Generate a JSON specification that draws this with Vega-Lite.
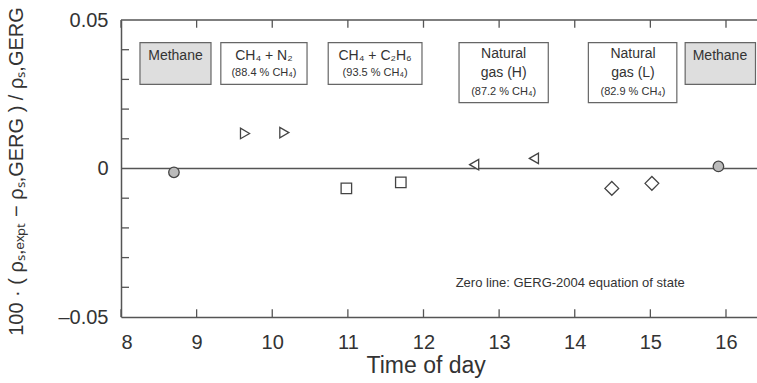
{
  "$schema": "https://vega.github.io/schema/vega-lite/v6.json",
  "width": 636,
  "height": 297,
  "autosize": "none",
  "padding": {"left": 121, "top": 20, "right": 0, "bottom": 66},
  "config": {
    "view": {"stroke": null},
    "font": "Liberation Sans",
    "axis": {"domainColor": "#555", "tickColor": "#555", "labelColor": "#333", "titleColor": "#333", "grid": false, "labelFont": "Liberation Sans", "titleFont": "Liberation Sans", "titleFontWeight": "normal"}
  },
  "datasets": {
    "points": [
      {"t": 8.70, "dev": -0.0013, "gas": "Methane", "shape": "circle"},
      {"t": 9.64, "dev": 0.0118, "gas": "CH4+N2", "shape": "triangle-right"},
      {"t": 10.16, "dev": 0.0121, "gas": "CH4+N2", "shape": "triangle-right"},
      {"t": 10.98, "dev": -0.0067, "gas": "CH4+C2H6", "shape": "square"},
      {"t": 11.70, "dev": -0.0047, "gas": "CH4+C2H6", "shape": "square"},
      {"t": 12.67, "dev": 0.0013, "gas": "Natural gas (H)", "shape": "triangle-left"},
      {"t": 13.46, "dev": 0.0034, "gas": "Natural gas (H)", "shape": "triangle-left"},
      {"t": 14.49, "dev": -0.0067, "gas": "Natural gas (L)", "shape": "diamond"},
      {"t": 15.02, "dev": -0.0050, "gas": "Natural gas (L)", "shape": "diamond"},
      {"t": 15.90, "dev": 0.0007, "gas": "Methane", "shape": "circle"}
    ],
    "boxes": [
      {"x1": 8.251, "x2": 9.19, "y1": 0.0424, "y2": 0.0283, "kind": "methane"},
      {"x1": 9.32, "x2": 10.46, "y1": 0.0424, "y2": 0.0283, "kind": "mix"},
      {"x1": 10.74, "x2": 11.98, "y1": 0.0424, "y2": 0.0283, "kind": "mix"},
      {"x1": 12.47, "x2": 13.65, "y1": 0.0424, "y2": 0.0222, "kind": "mix"},
      {"x1": 14.18, "x2": 15.35, "y1": 0.0424, "y2": 0.0222, "kind": "mix"},
      {"x1": 15.46, "x2": 16.39, "y1": 0.0424, "y2": 0.0283, "kind": "methane"}
    ],
    "bigText": [
      {"x": 8.72, "y": 0.0380, "label": "Methane"},
      {"x": 9.89, "y": 0.0380, "label": "CH₄ + N₂"},
      {"x": 11.36, "y": 0.0380, "label": "CH₄ + C₂H₆"},
      {"x": 13.06, "y": 0.0384, "label": "Natural"},
      {"x": 13.06, "y": 0.0323, "label": "gas (H)"},
      {"x": 14.77, "y": 0.0384, "label": "Natural"},
      {"x": 14.77, "y": 0.0323, "label": "gas (L)"},
      {"x": 15.92, "y": 0.0380, "label": "Methane"}
    ],
    "smallText": [
      {"x": 9.89, "y": 0.0320, "label": "(88.4 % CH₄)"},
      {"x": 11.36, "y": 0.0320, "label": "(93.5 % CH₄)"},
      {"x": 13.06, "y": 0.0259, "label": "(87.2 % CH₄)"},
      {"x": 14.77, "y": 0.0259, "label": "(82.9 % CH₄)"}
    ],
    "note": [
      {"x": 13.94, "y": -0.0387, "label": "Zero line: GERG-2004 equation of state"}
    ],
    "zero": [{"y": 0}],
    "top": [{"y": 0.05}],
    "xticks": [{"x": 8}, {"x": 9}, {"x": 10}, {"x": 11}, {"x": 12}, {"x": 13}, {"x": 14}, {"x": 15}, {"x": 16}],
    "yticks": [{"y": -0.04}, {"y": -0.03}, {"y": -0.02}, {"y": -0.01}, {"y": 0.01}, {"y": 0.02}, {"y": 0.03}, {"y": 0.04}]
  },
  "layer": [
    {
      "data": {"name": "zero"},
      "mark": {"type": "rule", "color": "#555", "strokeWidth": 1.5},
      "encoding": {
        "y": {
          "field": "y", "type": "quantitative",
          "scale": {"domain": [-0.05, 0.05], "nice": false, "zero": false},
          "axis": {
            "values": [-0.05, 0, 0.05],
            "ticks": false, "domainWidth": 1.5,
            "labelFontSize": 20, "labelPadding": 13, "labelOverlap": false,
            "labelExpr": "datum.value < -0.049 ? '–0.05' : (datum.value > 0.049 ? '0.05' : '0')",
            "title": "100 · ( ρₛ,ₑₓₚₜ − ρₛ,GERG ) / ρₛ,GERG",
            "titleFontSize": 20, "titlePadding": 31, "titleY": 151
          }
        }
      }
    },
    {
      "data": {"name": "top"},
      "mark": {"type": "rule", "color": "#555", "strokeWidth": 1.5},
      "encoding": {"y": {"field": "y", "type": "quantitative"}}
    },
    {
      "data": {"name": "yticks"},
      "mark": {"type": "rule", "color": "#555", "strokeWidth": 1.3},
      "encoding": {
        "y": {"field": "y", "type": "quantitative"},
        "x": {"datum": 8, "type": "quantitative"},
        "x2": {"datum": 8.106}
      }
    },
    {
      "data": {"name": "xticks"},
      "mark": {"type": "rule", "color": "#555", "strokeWidth": 1.3},
      "encoding": {
        "x": {"field": "x", "type": "quantitative"},
        "y": {"datum": 0.05, "type": "quantitative"},
        "y2": {"datum": 0.0474}
      }
    },
    {
      "data": {"name": "xticks"},
      "mark": {"type": "rule", "color": "#555", "strokeWidth": 1.3},
      "encoding": {
        "x": {"field": "x", "type": "quantitative"},
        "y": {"datum": -0.05, "type": "quantitative"},
        "y2": {"datum": -0.0474}
      }
    },
    {
      "data": {"name": "boxes"},
      "mark": {"type": "rect", "stroke": "#666", "strokeWidth": 1.2},
      "encoding": {
        "x": {
          "field": "x1", "type": "quantitative",
          "scale": {"domain": [8, 16.41], "nice": false, "zero": false},
          "axis": {
            "values": [8, 9, 10, 11, 12, 13, 14, 15, 16],
            "format": "d",
            "ticks": false, "domainWidth": 1.5,
            "labelFontSize": 20, "labelPadding": 15,
            "title": "Time of day", "titleFontSize": 23, "titlePadding": 2,
            "titleAnchor": "start", "titleX": 245
          }
        },
        "x2": {"field": "x2"},
        "y": {"field": "y1", "type": "quantitative"},
        "y2": {"field": "y2"},
        "fill": {
          "condition": {"test": "datum.kind == 'methane'", "value": "#dedede"},
          "value": "#ffffff"
        }
      }
    },
    {
      "data": {"name": "bigText"},
      "mark": {"type": "text", "fontSize": 14, "color": "#333", "baseline": "middle", "align": "center"},
      "encoding": {
        "x": {"field": "x", "type": "quantitative"},
        "y": {"field": "y", "type": "quantitative"},
        "text": {"field": "label"}
      }
    },
    {
      "data": {"name": "smallText"},
      "mark": {"type": "text", "fontSize": 11, "color": "#333", "baseline": "middle", "align": "center"},
      "encoding": {
        "x": {"field": "x", "type": "quantitative"},
        "y": {"field": "y", "type": "quantitative"},
        "text": {"field": "label"}
      }
    },
    {
      "data": {"name": "note"},
      "mark": {"type": "text", "fontSize": 13, "color": "#333", "baseline": "middle", "align": "center"},
      "encoding": {
        "x": {"field": "x", "type": "quantitative"},
        "y": {"field": "y", "type": "quantitative"},
        "text": {"field": "label"}
      }
    },
    {
      "data": {"name": "points"},
      "mark": {"type": "point", "strokeWidth": 1.3, "stroke": "#444", "opacity": 1},
      "encoding": {
        "x": {"field": "t", "type": "quantitative"},
        "y": {"field": "dev", "type": "quantitative"},
        "shape": {"field": "shape", "type": "nominal", "scale": null},
        "size": {
          "condition": {"test": "datum.shape == 'diamond'", "value": 190},
          "value": 110
        },
        "fill": {
          "condition": {"test": "datum.shape == 'circle'", "value": "#bbbbbb"},
          "value": "#ffffff"
        }
      }
    }
  ]
}
